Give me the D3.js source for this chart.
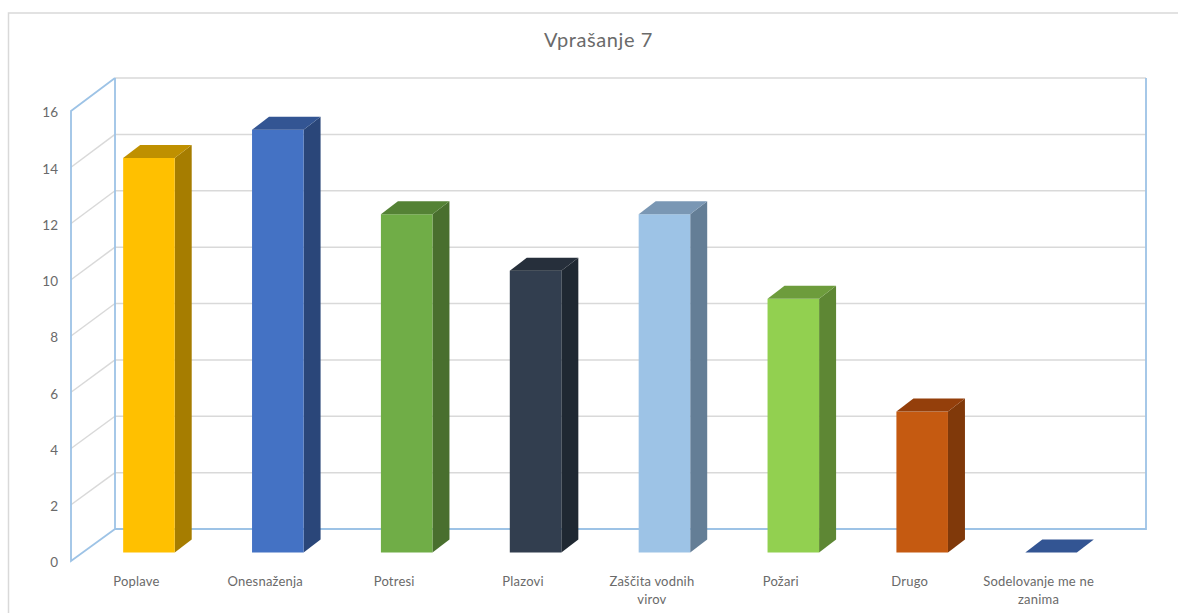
<!DOCTYPE html>
<html><head><meta charset="utf-8">
<script src="https://cdn.jsdelivr.net/npm/d3@7/dist/d3.min.js"></script>
<style>
html,body{margin:0;padding:0;background:#fff;overflow:hidden}
text{font-family:Lato,"Open Sans",sans-serif;fill:#6a6a6a}
</style></head><body>
<script>
const chartTitle = "Vprašanje 7";
const categories = ["Poplave","Onesnaženja","Potresi","Plazovi","Zaščita vodnih virov","Požari","Drugo","Sodelovanje me ne zanima"];
const categoryLines = [["Poplave"],["Onesnaženja"],["Potresi"],["Plazovi"],["Zaščita vodnih","virov"],["Požari"],["Drugo"],["Sodelovanje me ne","zanima"]];
const values = [14,15,12,10,12,9,5,0];
const tickValues = [0,2,4,6,8,10,12,14,16];
const frontColors = ["#FFC000","#4472C4","#70AD47","#323E4F","#9DC3E6","#92D050","#C55A11","#4472C4"];
const sideColors  = ["#A67D00","#2A4679","#496F2E","#1F2832","#647E96","#5E8734","#80390A","#2A4679"];
const topColors   = ["#BF9000","#335593","#548235","#262F3B","#7A97B4","#6D9C3C","#943F0B","#335593"];

const W=1178,H=613;
const svg=d3.select("body").append("svg").attr("width",W).attr("height",H).style("display","block");
const gridC="#d9d9d9", wallC="#9dc3e6";

// outer chart frame
svg.append("path").attr("d","M8.5,613V13H1178").attr("fill","none").attr("stroke",gridC).attr("stroke-width",1.5);

const backL=115, backR=1146, wallDx=44, wallDy=32.5;
const yBack=d3.scaleLinear().domain([0,16]).range([529,78]);
const yFront=d3.scaleLinear().domain([0,16]).range([561,111]);
const yBar=d3.scaleLinear().domain([0,16]).range([552.5,101.5]);
const x=d3.scaleBand().domain(categories).range([84.5,1115.5]).paddingInner(0.6).paddingOuter(0.3);
const bw=x.bandwidth(), barDx=17, barDy=13;

// gridlines
tickValues.filter(t=>t>0).forEach(t=>{
  svg.append("line").attr("x1",backL).attr("x2",backR).attr("y1",yBack(t)).attr("y2",yBack(t)).attr("stroke",gridC).attr("stroke-width",1.5);
  if(t<16) svg.append("line").attr("x1",backL-wallDx).attr("x2",backL).attr("y1",yFront(t)).attr("y2",yBack(t)).attr("stroke",gridC).attr("stroke-width",1.5);
});

// walls
const wall=svg.append("g").attr("fill","none").attr("stroke",wallC).attr("stroke-width",1.8);
wall.append("path").attr("d",`M${backL},${yBack(16)}V${yBack(0)}H${backR}V${yBack(16)}`);
wall.append("path").attr("d",`M${backL},${yBack(16)}L${backL-wallDx},${yFront(16)}V${yFront(0)}L${backL},${yBack(0)}`);

// bars
categories.forEach((c,i)=>{
  const v=values[i], l=x(c), r=l+bw, t=yBar(v), b=yBar(0);
  const g=svg.append("g");
  if(v>0){
    g.append("path").attr("fill",sideColors[i]).attr("d",`M${r},${t}L${r+barDx},${t-barDy}V${b-barDy}L${r},${b}Z`);
    g.append("rect").attr("x",l).attr("y",t).attr("width",bw).attr("height",b-t).attr("fill",frontColors[i]);
  }
  g.append("path").attr("fill",topColors[i]).attr("d",`M${l},${t}L${l+barDx},${t-barDy}H${r+barDx}L${r},${t}Z`);
});

// value axis
const axis=svg.append("g").attr("transform","translate(58,1.5)")
  .call(d3.axisLeft(yFront).tickValues(tickValues).tickSize(0).tickPadding(0));
axis.select(".domain").remove();
axis.selectAll("text").attr("font-size",13.5).style("font-family","Lato").style("fill","#6a6a6a");

// category labels
categories.forEach((c,i)=>{
  const t=svg.append("text").attr("text-anchor","middle").attr("font-size",13).attr("letter-spacing",0.2)
    .attr("x",x(c)+bw/2-12.5).attr("y",586);
  categoryLines[i].forEach((ln,j)=>t.append("tspan").attr("x",x(c)+bw/2-12.5).attr("dy",j?18:0).text(ln));
});

svg.append("text").attr("x",598.5).attr("y",47).attr("text-anchor","middle").attr("font-size",20).attr("letter-spacing",0.6).text(chartTitle);
</script>
</body></html>
